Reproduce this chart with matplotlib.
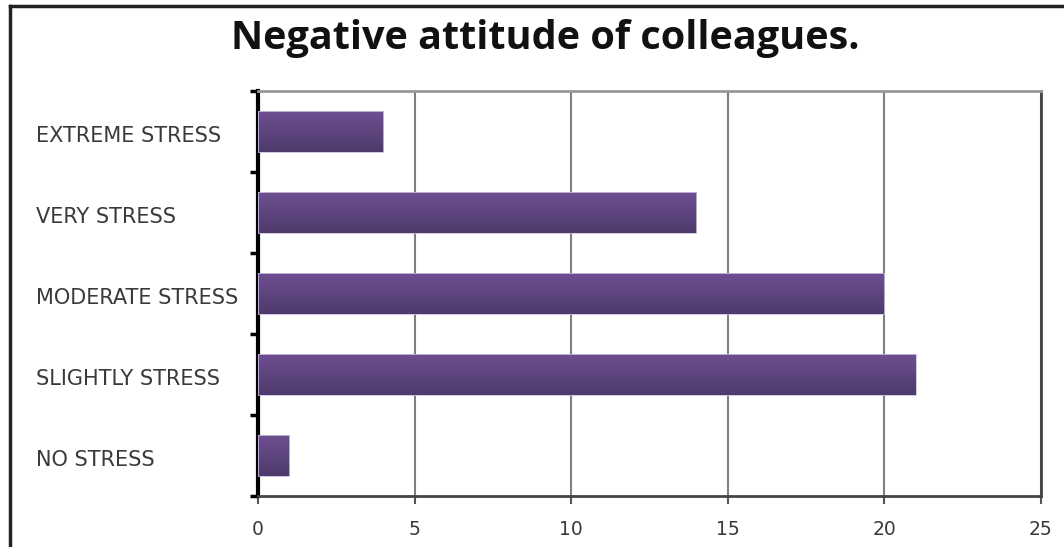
import numpy as np
import matplotlib
matplotlib.use("Agg")
import matplotlib.pyplot as plt
from matplotlib.colors import LinearSegmentedColormap
from matplotlib.patches import Rectangle

categories = ["NO STRESS", "SLIGHTLY STRESS", "MODERATE STRESS", "VERY STRESS", "EXTREME STRESS"]
values = [1, 21, 20, 14, 4]
x_ticks = [0, 5, 10, 15, 20, 25]
title = "Negative attitude of colleagues."

W, H = 1064, 547
fig = plt.figure(figsize=(W / 100, H / 100), dpi=100)
fig.patch.set_facecolor("white")

# outer frame lines (top and left edges of the chart area)
fig.add_artist(plt.Line2D([10 / W, 10 / W], [0, 1 - 6 / H], transform=fig.transFigure,
                          color="#222222", lw=2.5))
fig.add_artist(plt.Line2D([10 / W, 1], [1 - 6 / H, 1 - 6 / H], transform=fig.transFigure,
                          color="#222222", lw=2.5))

left, right, top, bottom = 258, 1041, 91, 496
ax = fig.add_axes([left / W, 1 - bottom / H, (right - left) / W, (bottom - top) / H])

grad = LinearSegmentedColormap.from_list("bar", ["#4e3a6c", "#6d4f91"])
gradimg = np.linspace(0, 1, 64).reshape(-1, 1)
bar_h = 0.5
for i, v in enumerate(values):
    ax.imshow(gradimg, cmap=grad, aspect="auto", origin="lower",
              extent=(0, v, i - bar_h / 2, i + bar_h / 2), zorder=3,
              interpolation="bilinear")
    ax.add_patch(Rectangle((0, i - bar_h / 2), v, bar_h, fill=False,
                           edgecolor="#cbbfe0", lw=0.6, zorder=4))
ax.set_xlim(0, 25)
ax.set_ylim(-0.5, len(categories) - 0.5)

ax.set_xticks(x_ticks)
ax.set_xticklabels([str(t) for t in x_ticks])
ax.xaxis.grid(True, color="#7f7f7f", lw=1.5, zorder=1)
ax.set_axisbelow(True)

ax.set_yticks(np.arange(len(categories)))
ax.set_yticklabels(categories)
ax.set_yticks(np.arange(-0.5, len(categories)), minor=True)
ax.tick_params(axis="y", which="major", length=0, pad=0)
ax.tick_params(axis="y", which="minor", length=6, width=2.5, color="black", direction="out")
ax.tick_params(axis="x", length=6, width=1.5, color="#555555", direction="out",
               labelsize=13.5, labelcolor="#3a3a3a", pad=11)

for lbl in ax.get_yticklabels():
    lbl.set_horizontalalignment("left")
    lbl.set_fontsize(15)
    lbl.set_color("#3a3a3a")
    lbl.set_fontfamily("DejaVu Sans")
# push category labels to the left edge of the chart
offset = matplotlib.transforms.ScaledTranslation(-(left - 36) / 100, -2.5 / 100, fig.dpi_scale_trans)
for lbl in ax.get_yticklabels():
    lbl.set_transform(lbl.get_transform() + offset)

ax.spines["left"].set_color("black")
ax.spines["left"].set_linewidth(3)
ax.spines["bottom"].set_color("#444444")
ax.spines["bottom"].set_linewidth(2)
ax.spines["top"].set_color("#999999")
ax.spines["top"].set_linewidth(2)
ax.spines["right"].set_color("#444444")
ax.spines["right"].set_linewidth(2)

fig.text(545 / W, 1 - 39 / H, title, ha="center", va="center", fontsize=28.5,
         fontweight="bold", fontfamily="Open Sans", color="#111111")

fig.savefig("out.png", dpi=100, facecolor="white")
